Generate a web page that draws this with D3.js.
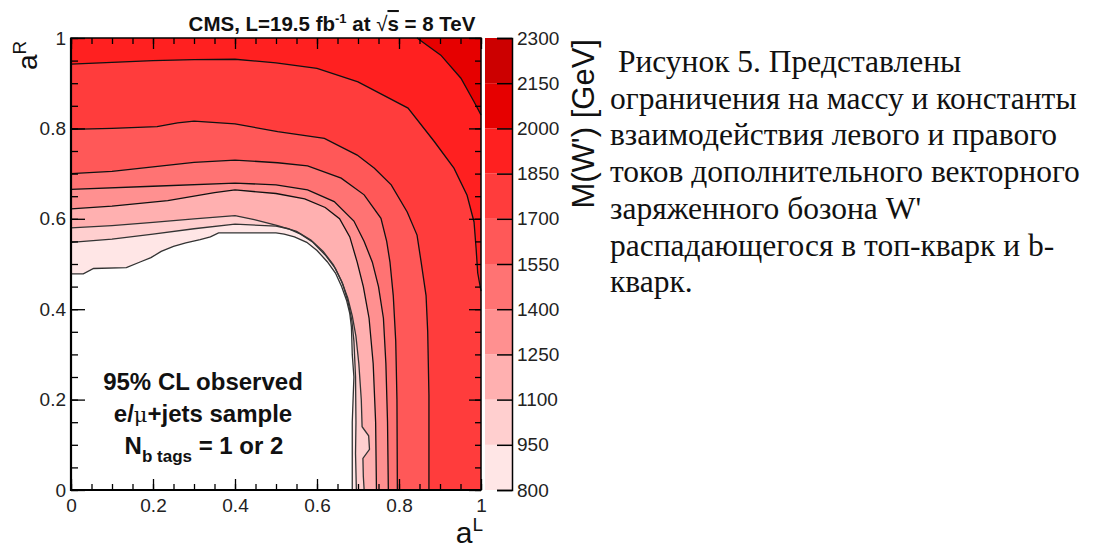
<!DOCTYPE html>
<html>
<head>
<meta charset="utf-8">
<script src="https://cdn.jsdelivr.net/npm/d3@7"></script>
<style>
  body { margin: 0; background: #fff; }
  svg { display: block; }
  .tick text { font-family: "Liberation Sans", Arial, sans-serif; }
</style>
</head>
<body>
<div id="chart"></div>
<script>
// contour levels of M(W') [GeV] and the fill colour of each band
const levels = [800, 950, 1100, 1250, 1400, 1550, 1700, 1850, 2000, 2150, 2300];
const bandColors = ["#ffe6e6", "#ffcfcf", "#ffb0b0", "#ff9090", "#ff7373", "#ff5858", "#ff3c3c", "#ff2020", "#e60000", "#cc0000"];

// contour lines as [aL, aR] points
const c800 = [[0,0.478],[0.03,0.478],[0.055,0.49],[0.135,0.492],[0.17,0.505],[0.195,0.514],[0.22,0.528],[0.25,0.539],[0.28,0.547],[0.315,0.554],[0.34,0.56],[0.36,0.569],[0.5,0.569],[0.52,0.566],[0.545,0.56],[0.575,0.548],[0.6,0.53],[0.625,0.505],[0.645,0.48],[0.66,0.45],[0.672,0.42],[0.68,0.39],[0.684,0.36],[0.686,0.3],[0.69,0.25],[0.686,0.15],[0.686,0]];
const c950 = [[0,0.548],[0.1,0.555],[0.2,0.566],[0.3,0.578],[0.4,0.588],[0.5,0.584],[0.53,0.578],[0.56,0.566],[0.59,0.548],[0.62,0.52],[0.645,0.49],[0.663,0.455],[0.676,0.415],[0.685,0.375],[0.69,0.33],[0.694,0.25],[0.695,0.15],[0.694,0.08],[0.696,0]];
const c1100 = [[0,0.58],[0.1,0.585],[0.2,0.592],[0.3,0.6],[0.4,0.607],[0.447,0.598],[0.504,0.585],[0.55,0.572],[0.585,0.553],[0.615,0.528],[0.64,0.498],[0.66,0.462],[0.675,0.425],[0.686,0.385],[0.695,0.34],[0.702,0.28],[0.708,0.2],[0.71,0.14],[0.726,0.12],[0.728,0.09],[0.712,0.07],[0.713,0.03],[0.715,0]];
const c1250 = [[0,0.622],[0.1,0.628],[0.236,0.64],[0.35,0.658],[0.4,0.664],[0.5,0.656],[0.57,0.644],[0.62,0.625],[0.655,0.6],[0.68,0.56],[0.698,0.504],[0.713,0.45],[0.727,0.38],[0.737,0.28],[0.743,0.15],[0.745,0]];
const c1400 = [[0,0.665],[0.2,0.672],[0.4,0.679],[0.5,0.675],[0.577,0.664],[0.642,0.638],[0.69,0.595],[0.715,0.55],[0.735,0.504],[0.75,0.45],[0.762,0.38],[0.768,0.28],[0.772,0.15],[0.774,0]];
const c1550 = [[0,0.70],[0.1,0.705],[0.2,0.715],[0.3,0.725],[0.4,0.73],[0.504,0.724],[0.577,0.717],[0.659,0.69],[0.715,0.653],[0.756,0.601],[0.77,0.55],[0.778,0.504],[0.786,0.43],[0.792,0.33],[0.795,0.2],[0.796,0]];
const c1700 = [[0,0.798],[0.1,0.8],[0.21,0.804],[0.26,0.812],[0.3,0.816],[0.4,0.81],[0.504,0.793],[0.618,0.778],[0.698,0.741],[0.74,0.712],[0.781,0.675],[0.82,0.615],[0.844,0.564],[0.854,0.504],[0.866,0.43],[0.87,0.35],[0.873,0.21],[0.873,0]];
const c1850 = [[0,0.942],[0.1,0.946],[0.2,0.95],[0.3,0.952],[0.4,0.953],[0.5,0.945],[0.6,0.933],[0.7,0.903],[0.822,0.845],[0.886,0.771],[0.934,0.712],[0.966,0.652],[0.983,0.593],[0.988,0.535],[0.992,0.48],[1,0.44]];
const c2000 = [[0.844,1],[0.902,0.962],[0.951,0.911],[0.983,0.859],[1,0.83]];
const contourLines = [c800, c950, c1100, c1250, c1400, c1550, c1700, c1850, c2000];

const axisTicks = [0, 0.2, 0.4, 0.6, 0.8, 1];
const captionLines = [
  " Рисунок 5. Представлены",
  "ограничения на массу и константы",
  "взаимодействия левого и правого",
  "токов дополнительного векторного",
  "заряженного бозона W'",
  "распадающегося в топ-кварк и b-",
  "кварк."
];

const W = 1097, H = 548;
const sans = "'Liberation Sans', Arial, sans-serif";
const svg = d3.select("#chart").append("svg").attr("width", W).attr("height", H);

const x = d3.scaleLinear().domain([0, 1]).range([71, 481]);
const y = d3.scaleLinear().domain([0, 1]).range([490, 38]);
const zc = d3.scaleLinear().domain([800, 2300]).range([490, 38]);

const line = d3.line().x(d => x(d[0])).y(d => y(d[1]));

// plot background
svg.append("rect").attr("x", x(0)).attr("y", y(1))
  .attr("width", x(1) - x(0)).attr("height", y(0) - y(1)).attr("fill", "#fff");

// filled region above each contour (closed through the top-right corner)
const plot = svg.append("g");
contourLines.forEach((pts, i) => {
  const start = pts[0], end = pts[pts.length - 1];
  const ring = pts.slice();
  if (end[1] === 0) ring.push([1, 0]);
  ring.push([1, 1]);
  if (start[0] === 0) ring.push([0, 1]);
  plot.append("path").attr("d", line(ring) + "Z").attr("fill", bandColors[i]);
});
contourLines.forEach((pts, i) => {
  plot.append("path").attr("d", line(pts)).attr("fill", "none")
    .attr("stroke", i < 3 ? "#333" : "#111").attr("stroke-width", 1.3);
});

// axes with ticks inside the frame
const fmt = d3.format("~g");
const minor = d3.range(0, 1.0001, 0.05);
function styleAxis(g) {
  g.select(".domain").remove();
  g.selectAll(".tick line").attr("stroke", "#000").attr("stroke-width", 1.3);
  g.selectAll(".tick text").attr("font-size", 19).attr("fill", "#222");
}
svg.append("g").attr("transform", `translate(0,${y(0)})`)
  .call(d3.axisBottom(x).tickValues(minor).tickSize(-6).tickFormat("")).call(styleAxis);
svg.append("g").attr("transform", `translate(0,${y(0)})`)
  .call(d3.axisBottom(x).tickValues(axisTicks).tickSize(-11).tickPadding(9).tickFormat(fmt)).call(styleAxis);
svg.append("g").attr("transform", `translate(0,${y(1)})`)
  .call(d3.axisTop(x).tickValues(minor).tickSize(-6).tickFormat("")).call(styleAxis);
svg.append("g").attr("transform", `translate(0,${y(1)})`)
  .call(d3.axisTop(x).tickValues(axisTicks).tickSize(-11).tickFormat("")).call(styleAxis);
svg.append("g").attr("transform", `translate(${x(0)},0)`)
  .call(d3.axisLeft(y).tickValues(minor).tickSize(-7).tickFormat("")).call(styleAxis);
svg.append("g").attr("transform", `translate(${x(0)},0)`)
  .call(d3.axisLeft(y).tickValues(axisTicks).tickSize(-14).tickPadding(5).tickFormat(fmt)).call(styleAxis);
svg.append("g").attr("transform", `translate(${x(1)},0)`)
  .call(d3.axisRight(y).tickValues(minor).tickSize(-6).tickFormat("")).call(styleAxis);
svg.append("g").attr("transform", `translate(${x(1)},0)`)
  .call(d3.axisRight(y).tickValues(axisTicks).tickSize(-12).tickFormat("")).call(styleAxis);

// frame
svg.append("rect").attr("x", x(0)).attr("y", y(1))
  .attr("width", x(1) - x(0)).attr("height", y(0) - y(1))
  .attr("fill", "none").attr("stroke", "#000").attr("stroke-width", 1.5);
svg.append("path").attr("d", `M${x(0)},${y(1)}V${y(0)}H${x(1)}`)
  .attr("fill", "none").attr("stroke", "#000").attr("stroke-width", 2.2);

// colour bar
const barX = 485, barW = 27;
svg.append("g").selectAll("rect").data(bandColors).join("rect")
  .attr("x", barX).attr("width", barW)
  .attr("y", (d, i) => zc(levels[i + 1]))
  .attr("height", (d, i) => zc(levels[i]) - zc(levels[i + 1]))
  .attr("fill", d => d);
svg.append("g").attr("transform", `translate(${barX + barW},0)`)
  .call(d3.axisRight(zc).tickValues(levels).tickSize(-15).tickPadding(5).tickFormat(d3.format("d")))
  .call(g => {
    g.select(".domain").attr("stroke", "#000").attr("stroke-width", 1.5);
    g.selectAll(".tick line").attr("stroke", "#000").attr("stroke-width", 1.5);
    g.selectAll(".tick text").attr("font-size", 19).attr("fill", "#222");
  });
svg.append("text")
  .attr("transform", `translate(594,39) rotate(-90)`)
  .attr("text-anchor", "end").attr("font-family", sans).attr("font-size", 31).attr("fill", "#111")
  .text("M(W') [GeV]");

// title
const title = svg.append("text").attr("x", 332).attr("y", 31).attr("text-anchor", "middle")
  .attr("font-family", sans).attr("font-weight", "bold").attr("font-size", 20.5).attr("fill", "#111");
title.append("tspan").text("CMS, L=19.5 fb");
title.append("tspan").attr("font-size", 13).attr("dy", -8).text("-1");
title.append("tspan").attr("dy", 8).text(" at ");
title.append("tspan").attr("font-weight", "normal").text("√");
title.append("tspan").attr("text-decoration", "overline").text("s");
title.append("tspan").text(" = 8 TeV");

// axis titles
const aR = svg.append("text").attr("transform", "translate(37,70) rotate(-90)")
  .attr("font-family", sans).attr("font-size", 28).attr("fill", "#111");
aR.append("tspan").text("a");
aR.append("tspan").attr("font-size", 19).attr("dy", -11).text("R");
const aL = svg.append("text").attr("x", 483).attr("y", 543).attr("text-anchor", "end")
  .attr("font-family", sans).attr("font-size", 30).attr("fill", "#111");
aL.append("tspan").text("a");
aL.append("tspan").attr("font-size", 19).attr("dy", -12).text("L");

// legend text inside the plot
const leg = svg.append("g").attr("font-family", sans).attr("font-weight", "bold")
  .attr("font-size", 24).attr("fill", "#111").attr("text-anchor", "middle");
leg.append("text").attr("x", 203).attr("y", 390).text("95% CL observed");
const l2 = leg.append("text").attr("x", 203).attr("y", 422);
l2.append("tspan").text("e/");
l2.append("tspan").attr("font-weight", "normal").attr("font-family", "'DejaVu Serif', serif").attr("font-size", 21).text("μ");
l2.append("tspan").text("+jets sample");
const l3 = leg.append("text").attr("x", 204).attr("y", 454);
l3.append("tspan").text("N");
l3.append("tspan").attr("font-size", 17).attr("dy", 8).text("b tags");
l3.append("tspan").attr("dy", -8).text(" = 1 or 2");

// caption on the right
svg.append("g").selectAll("text").data(captionLines).join("text")
  .attr("x", 610).attr("y", (d, i) => 72 + i * 36.7)
  .attr("font-family", "'Liberation Serif', 'Times New Roman', serif")
  .attr("font-size", 31.5).attr("fill", "#111")
  .style("white-space", "pre")
  .text(d => d);
</script>
</body>
</html>
